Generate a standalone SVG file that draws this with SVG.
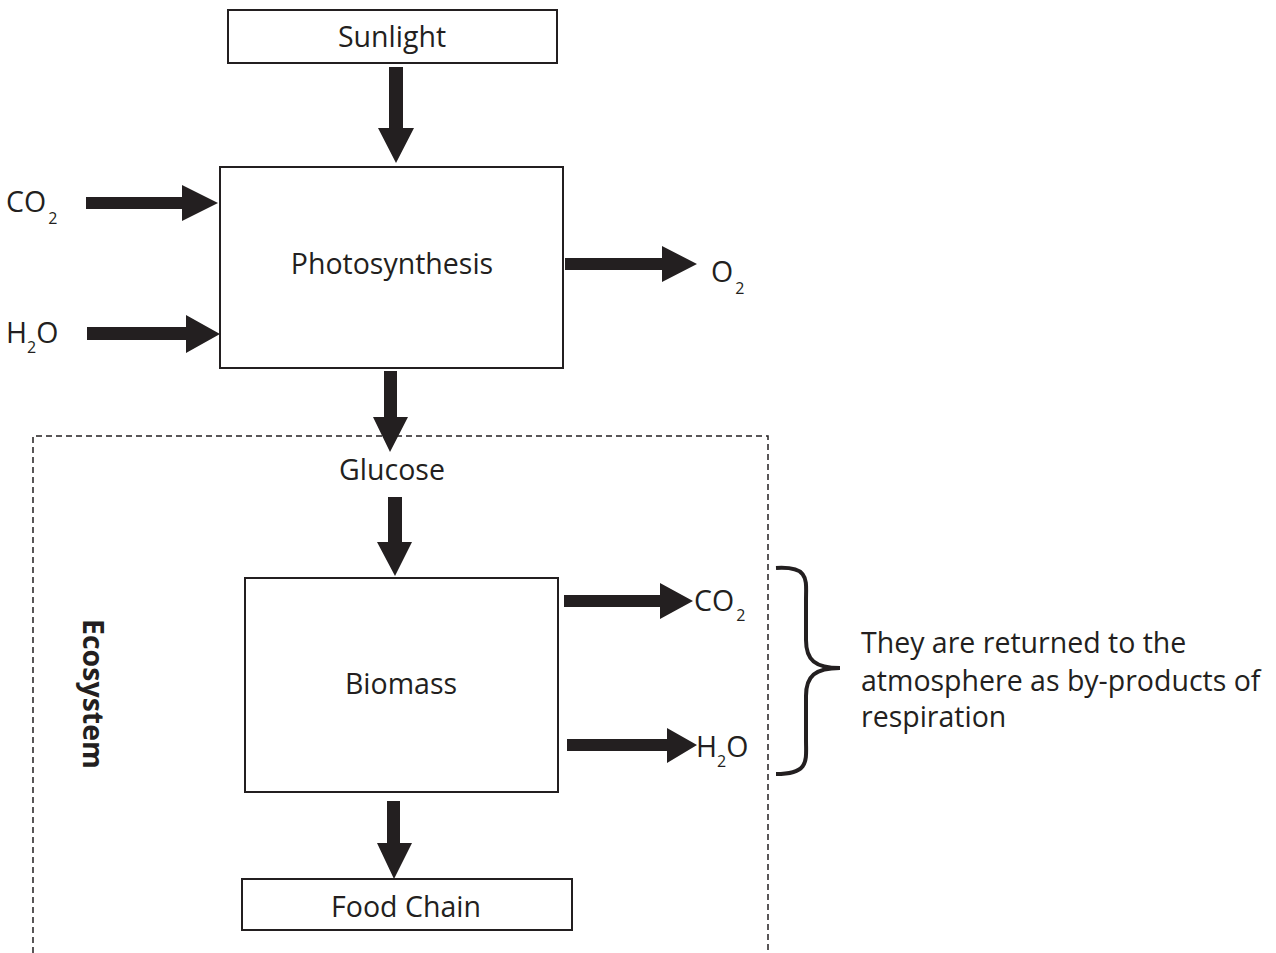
<svg xmlns="http://www.w3.org/2000/svg" width="1276" height="953" viewBox="0 0 1276 953">
<style>
text{font-family:"Open Sans","Noto Sans","Liberation Sans",sans-serif;font-size:28.5px;fill:#231f20}
.box{fill:#fff;stroke:#231f20;stroke-width:2}
.arr{fill:#231f20}
.sub{font-size:16px}
</style>
<rect width="1276" height="953" fill="#fff"/>
<g id="ecosystem">
<path d="M33,953 V436 H768 V953" fill="none" stroke="#231f20" stroke-width="1.5" stroke-dasharray="6,4"/>
<text x="0" y="0" font-weight="bold" text-anchor="middle" transform="translate(83,694) rotate(90)">Ecosystem</text>
</g>
<g id="connectors">
<polygon class="arr" points="389,67 403,67 403,128 414,128 396,163 378,128 389,128"/>
<polygon class="arr" points="86,197 182,197 182,185 218,203 182,221 182,209 86,209"/>
<polygon class="arr" points="87,327 186,327 186,315 220,334 186,353 186,340 87,340"/>
<polygon class="arr" points="565,258 662,258 662,246 697,264 662,282 662,270 565,270"/>
<polygon class="arr" points="384,371 397,371 397,417 408,417 390,452 373,417 384,417"/>
<polygon class="arr" points="388,497 402,497 402,542 412,542 395,576 377,542 388,542"/>
<polygon class="arr" points="564,595 660,595 660,583 693,601 660,619 660,607 564,607"/>
<polygon class="arr" points="567,739 667,739 667,728 697,745 667,763 667,751 567,751"/>
<polygon class="arr" points="387,801 400,801 400,843 412,843 394,879 377,843 387,843"/>
</g>
<g id="sunlight">
<rect class="box" x="228" y="10" width="329" height="53"/>
<text x="392" y="47" text-anchor="middle">Sunlight</text>
</g>
<g id="photosynthesis">
<rect class="box" x="220" y="167" width="343" height="201"/>
<text x="392" y="274" text-anchor="middle">Photosynthesis</text>
</g>
<g id="co2-in"><text x="6" y="212">CO<tspan class="sub" dx="2" dy="12">2</tspan></text></g>
<g id="h2o-in"><text x="6" y="343">H<tspan class="sub" dy="10">2</tspan><tspan dy="-10">O</tspan></text></g>
<g id="o2-out"><text x="711" y="282">O<tspan class="sub" dx="2" dy="12">2</tspan></text></g>
<g id="glucose"><text x="392" y="480" text-anchor="middle">Glucose</text></g>
<g id="biomass">
<rect class="box" x="245" y="578" width="313" height="214"/>
<text x="401" y="694" text-anchor="middle">Biomass</text>
</g>
<g id="co2-out"><text x="694" y="611">CO<tspan class="sub" dx="2" dy="10">2</tspan></text></g>
<g id="h2o-out"><text x="696" y="757">H<tspan class="sub" dy="10">2</tspan><tspan dy="-10">O</tspan></text></g>
<g id="foodchain">
<rect class="box" x="242" y="879" width="330" height="51"/>
<text x="406" y="917" text-anchor="middle">Food Chain</text>
</g>
<g id="brace">
<path d="M776,568 C810,566 806,580 806,600 L806,640 C806,660 815,668 840,668 C815,668 806,676 806,696 L806,740 C806,760 810,774 776,774" fill="none" stroke="#231f20" stroke-width="4"/>
</g>
<g id="note">
<text x="861" y="653">They are returned to the</text>
<text x="861" y="691">atmosphere as by-products of</text>
<text x="861" y="727">respiration</text>
</g>
</svg>
